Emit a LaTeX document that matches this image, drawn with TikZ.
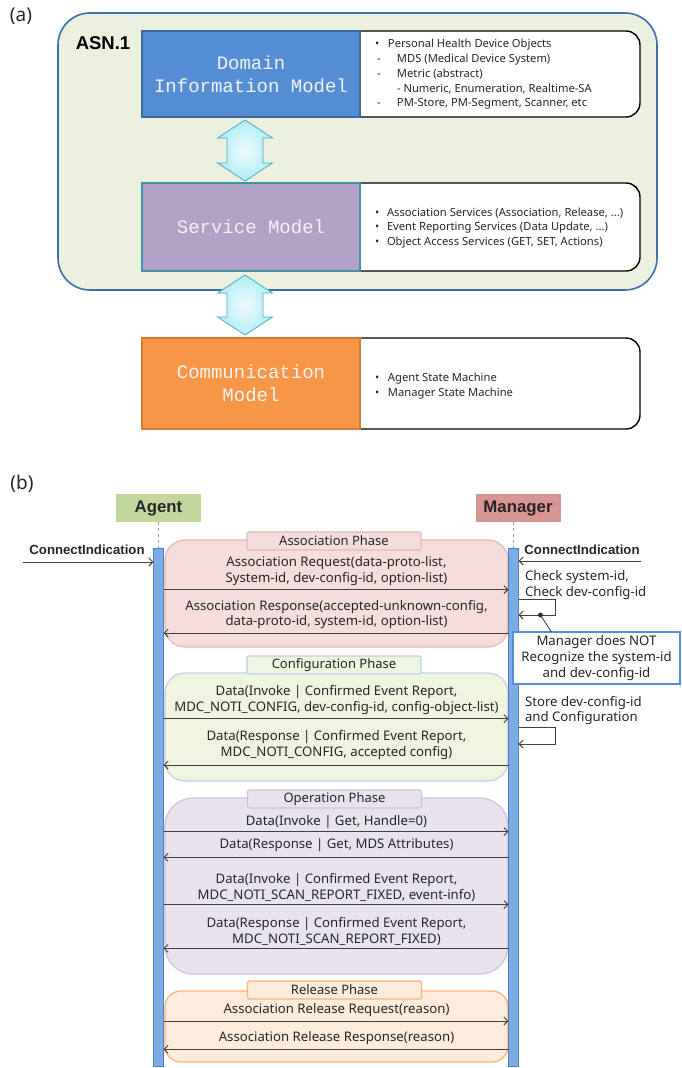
\documentclass[tikz,border=0pt]{standalone}
\usepackage{fontspec}
\setmainfont{Noto Sans}
\newfontfamily\monofont{Liberation Mono}
\newfontfamily\boldfont{Liberation Sans}
\usetikzlibrary{arrows.meta,calc}
\definecolor{asnfill}{HTML}{EBF1DE}
\definecolor{asnline}{HTML}{3F6FA8}
\definecolor{dimfill}{HTML}{558ED5}
\definecolor{dimline}{HTML}{3F6A9F}
\definecolor{smfill}{HTML}{B3A2C7}
\definecolor{smline}{HTML}{3D93A3}
\definecolor{cmfill}{HTML}{F79646}
\definecolor{cmline}{HTML}{D77B36}
\definecolor{darrfill}{HTML}{C4EDF6}
\definecolor{darrline}{HTML}{4BACC6}
\definecolor{agentfill}{HTML}{C3D69B}
\definecolor{mgrfill}{HTML}{D99594}
\definecolor{barfill}{HTML}{7EABE3}
\definecolor{barline}{HTML}{4F81BD}
\definecolor{assocfill}{HTML}{F4DDDC}
\definecolor{assocline}{HTML}{E8B7B6}
\definecolor{conffill}{HTML}{EEF4E0}
\definecolor{confline}{HTML}{BBD2E8}
\definecolor{opfill}{HTML}{E9E3F0}
\definecolor{opline}{HTML}{CDC3DC}
\definecolor{relfill}{HTML}{FDEBDB}
\definecolor{relline}{HTML}{F7B57A}
\definecolor{notebd}{HTML}{558ED5}
\definecolor{txtdark}{HTML}{262626}
\definecolor{arrline}{HTML}{404040}
\begin{document}
\begin{tikzpicture}[x=1pt,y=-1pt,
  every node/.style={inner sep=0pt,outer sep=0pt},
  panel/.style={font=\fontsize{19}{22}\selectfont,text=txtdark},
  model/.style={draw,line width=1.2pt,minimum width=218pt,text=white!95!black,font=\monofont\fontsize{19}{23}\selectfont,align=center},
  infobox/.style={draw=black,fill=white,line width=1.4pt,rounded corners=14pt},
  infotxt/.style={anchor=west,align=left,font=\fontsize{11.2}{14.75}\selectfont,text=txtdark},
  dblarrow/.style={draw=darrline,line width=0.8pt,inner color=white!70!darrfill,outer color=darrfill!90!cyan},
  actor/.style={minimum width=85pt,minimum height=28pt,font=\boldfont\bfseries\fontsize{16.8}{18}\selectfont,text=txtdark},
  lifebar/.style={draw=barline,fill=barfill,line width=0.8pt,minimum width=10pt,minimum height=518pt},
  life/.style={draw=barfill,dashed,line width=0.7pt},
  phasebox/.style={line width=1.2pt,rounded corners=20pt,minimum width=343pt},
  phaselbl/.style={line width=1.2pt,rounded corners=2pt,minimum width=174pt,minimum height=18pt,font=\fontsize{13}{15}\selectfont,text=txtdark},
  msgtext/.style={align=center,font=\fontsize{13.2}{15.8}\selectfont,text=txtdark},
  msg/.style={draw=arrline,line width=0.9pt,-{Straight Barb[length=4pt,width=8pt]}},
  sidenote/.style={anchor=west,align=left,font=\fontsize{13.2}{15.8}\selectfont,text=txtdark},
  conn/.style={font=\boldfont\bfseries\fontsize{13.2}{15}\selectfont,text=txtdark},
]
\useasboundingbox (0,0) rectangle (682,1068);
\fill[white] (0,0) rectangle (682,1068);

% ---------------- (a) ----------------
\node[panel] (la) at (21,16) {(a)};
\draw[draw=asnline,fill=asnfill,line width=1.6pt,rounded corners=32pt] (58,13) rectangle (657,290);
\node[font=\boldfont\bfseries\fontsize{18.5}{20}\selectfont,text=black] (asn) at (103,43) {ASN.1};

\filldraw[infobox] (360,31) -- (640,31) -- (640,117) -- (360,117);
\filldraw[infobox] (360,183) -- (640,183) -- (640,271) -- (360,271);
\filldraw[infobox] (360,338) -- (640,338) -- (640,429) -- (360,429);

\node[model,fill=dimfill,draw=dimline,minimum height=86pt] (dim) at (251,74) {Domain\\Information Model};
\node[model,fill=smfill,draw=smline,minimum height=88pt] (sm) at (251,227) {Service Model};
\node[model,fill=cmfill,draw=cmline,minimum height=91pt] (cm) at (251,383.5) {Communication\\Model};

\node[infotxt] (dimtxt) at (375,74.5) {\makebox[13pt][l]{•}Personal Health Device Objects\\
\makebox[22pt][l]{\hspace{2pt}-}MDS (Medical Device System)\\
\makebox[22pt][l]{\hspace{2pt}-}Metric (abstract)\\
\hspace*{22pt}- Numeric, Enumeration, Realtime-SA\\
\makebox[22pt][l]{\hspace{2pt}-}PM-Store, PM-Segment, Scanner, etc};
\node[infotxt] (smtxt) at (375,228) {\makebox[12pt][l]{•}Association Services (Association, Release, ...)\\
\makebox[12pt][l]{•}Event Reporting Services (Data Update, ...)\\
\makebox[12pt][l]{•}Object Access Services (GET, SET, Actions)};
\node[infotxt] (cmtxt) at (375,386) {\makebox[13pt][l]{•}Agent State Machine\\
\makebox[13pt][l]{•}Manager State Machine};

\path[dblarrow] (245,120) -- (272.5,138) -- (263,138) -- (263,163) -- (272.5,163) -- (245,181) -- (217.5,163) -- (227,163) -- (227,138) -- (217.5,138) -- cycle;
\path[dblarrow] (245,275) -- (272.5,293) -- (263,293) -- (263,317) -- (272.5,317) -- (245,335) -- (217.5,317) -- (227,317) -- (227,293) -- (217.5,293) -- cycle;

% ---------------- (b) ----------------
\node[panel] (lb) at (22,484) {(b)};
\node[actor,fill=agentfill] (agent) at (158.5,508) {Agent};
\node[actor,fill=mgrfill] (mgr) at (518,508) {Manager};

\node[phasebox,fill=assocfill,draw=assocline,minimum height=107pt] (assoc) at (336.5,593.5) {};
\node[phasebox,fill=conffill,draw=confline,minimum height=108pt] (conf) at (336.5,727) {};
\node[phasebox,fill=opfill,draw=opline,minimum height=176pt,rounded corners=28pt] (oper) at (336.5,886) {};
\node[phasebox,fill=relfill,draw=relline,minimum height=71pt,rounded corners=16pt] (rel) at (336.5,1026.5) {};

\node[phaselbl,fill=assocfill,draw=assocline] (assocl) at (334,541) {Association Phase};
\node[phaselbl,fill=conffill,draw=confline] (confl) at (334,665) {Configuration Phase};
\node[phaselbl,fill=opfill,draw=opline] (operl) at (334.5,799) {Operation Phase};
\node[phaselbl,fill=relfill,draw=relline] (rell) at (334.5,990) {Release Phase};

\node[lifebar] (abar) at (158.5,807) {};
\node[lifebar] (mbar) at (513.5,807) {};
\draw[life] (agent.south) -- (abar.north);
\draw[life] (mbar.north |- mgr.south) -- (mbar.north);

% connect indications
\node[conn] (cil) at (87,550) {ConnectIndication};
\node[conn] (cir) at (582,550) {ConnectIndication};
\coordinate (cilstart) at (23,562);
\coordinate (cirstart) at (641,561);
\draw[msg] (cilstart) -- (abar.west |- cilstart);
\draw[msg] (cirstart) -- (mbar.east |- cirstart);

% association
\node[msgtext] (m1) at (336.5,571) {Association Request(data-proto-list,\\System-id, dev-config-id, option-list)};
\draw[msg] (abar.east |- 0,589.5) -- (mbar.west |- 0,589.5);
\node[msgtext] (m2) at (336.5,614.5) {Association Response(accepted-unknown-config,\\data-proto-id, system-id, option-list)};
\draw[msg] (mbar.west |- 0,633) -- (abar.east |- 0,633);
\node[sidenote] (chk) at (525,585) {Check system-id,\\Check dev-config-id};
\draw[msg] (mbar.east |- 0,599) -- (555,599) -- (555,615) -- (mbar.east |- 0,615);

% configuration
\node[msgtext] (m3) at (336.5,699.7) {Data(Invoke | Confirmed Event Report,\\MDC\_NOTI\_CONFIG, dev-config-id, config-object-list)};
\draw[msg] (abar.east |- 0,718.7) -- (mbar.west |- 0,718.7);
\node[msgtext] (m4) at (336.5,745) {Data(Response | Confirmed Event Report,\\MDC\_NOTI\_CONFIG, accepted config)};
\draw[msg] (mbar.west |- 0,765) -- (abar.east |- 0,765);
\node[sidenote] (store) at (525,710.5) {Store dev-config-id\\and Configuration};
\draw[msg] (mbar.east |- 0,727) -- (555,727) -- (555,744) -- (mbar.east |- 0,744);

% operation
\node[msgtext] (m5) at (336.5,821.7) {Data(Invoke | Get, Handle=0)};
\draw[msg] (abar.east |- 0,831.7) -- (mbar.west |- 0,831.7);
\node[msgtext] (m6) at (336.5,845.3) {Data(Response | Get, MDS Attributes)};
\draw[msg] (mbar.west |- 0,857.3) -- (abar.east |- 0,857.3);
\node[msgtext] (m7) at (336.5,887.5) {Data(Invoke | Confirmed Event Report,\\MDC\_NOTI\_SCAN\_REPORT\_FIXED, event-info)};
\draw[msg] (abar.east |- 0,904.7) -- (mbar.west |- 0,904.7);
\node[msgtext] (m8) at (336.5,931.3) {Data(Response | Confirmed Event Report,\\MDC\_NOTI\_SCAN\_REPORT\_FIXED)};
\draw[msg] (mbar.west |- 0,948.3) -- (abar.east |- 0,948.3);

% release
\node[msgtext] (m9) at (336.5,1010) {Association Release Request(reason)};
\draw[msg] (abar.east |- 0,1021) -- (mbar.west |- 0,1021);
\node[msgtext] (m10) at (336.5,1038.3) {Association Release Response(reason)};
\draw[msg] (mbar.west |- 0,1049.3) -- (abar.east |- 0,1049.3);

% note
\node[draw=notebd,fill=white,line width=1.3pt,minimum width=167pt,minimum height=52pt,align=center,font=\fontsize{13.2}{16}\selectfont,text=txtdark] (note) at (596.5,658) {Manager does NOT\\Recognize the system-id\\and dev-config-id};
\coordinate (dot) at (540.5,615);
\fill[txtdark] (dot) circle (2.4pt);
\draw[arrline,line width=0.9pt] (dot) -- ($(note.north west)!0.23!(note.north east)$);
\end{tikzpicture}
\end{document}
